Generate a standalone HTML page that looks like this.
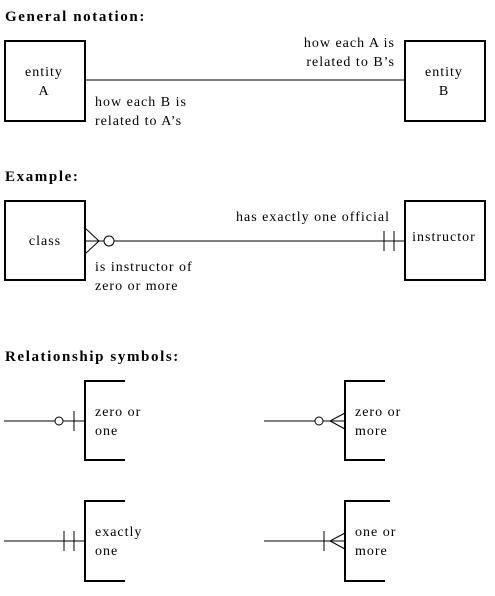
<!DOCTYPE html>
<html><head><meta charset="utf-8"><style>
body{margin:0;background:#fff;}
svg{display:block;}
text{font-family:"Liberation Serif",serif;font-size:14px;letter-spacing:1px;fill:#000;}
.b{font-weight:bold;font-size:15px;letter-spacing:1.6px;}
</style></head><body>
<svg width="495" height="596" viewBox="0 0 495 596" stroke="#000" fill="none">
<g>
<text class="b" x="5" y="21" stroke="none">General notation:</text>
<rect x="5" y="41" width="80" height="80" stroke-width="2"/>
<text x="44" y="76" text-anchor="middle" stroke="none">entity</text>
<text x="44" y="95" text-anchor="middle" stroke="none">A</text>
<rect x="405" y="41" width="80" height="80" stroke-width="2"/>
<text x="444" y="76" text-anchor="middle" stroke="none">entity</text>
<text x="444" y="95" text-anchor="middle" stroke="none">B</text>
<line x1="85" y1="80" x2="405" y2="80"/>
<text x="395" y="47" text-anchor="end" stroke="none">how each A is</text>
<text x="395" y="66" text-anchor="end" stroke="none">related to B’s</text>
<text x="95" y="106" stroke="none">how each B is</text>
<text x="95" y="125" stroke="none">related to A’s</text>
</g>
<g>
<text class="b" x="5" y="181" stroke="none">Example:</text>
<rect x="5" y="201" width="80" height="79" stroke-width="2"/>
<text x="45" y="245" text-anchor="middle" stroke="none">class</text>
<rect x="405" y="201" width="80" height="79" stroke-width="2"/>
<text x="444" y="241" text-anchor="middle" stroke="none">instructor</text>
<line x1="114" y1="241" x2="405" y2="241"/>
<path d="M85 228 L99 241 L85 254 M85 241 L104 241"/>
<circle cx="109" cy="241" r="5"/>
<line x1="384" y1="231" x2="384" y2="251"/><line x1="394" y1="231" x2="394" y2="251"/>
<text x="236" y="221" stroke="none">has exactly one official</text>
<text x="95" y="271" stroke="none">is instructor of</text>
<text x="95" y="290" stroke="none">zero or more</text>
</g>
<g>
<text class="b" x="5" y="361" stroke="none">Relationship symbols:</text>
<g>
<path d="M125 381 L85 381 L85 460 L125 460" stroke-width="2"/>
<line x1="4" y1="421" x2="55" y2="421"/><circle cx="59" cy="421" r="4"/><line x1="63" y1="421" x2="85" y2="421"/>
<line x1="74" y1="411" x2="74" y2="431"/>
<text x="95" y="416" stroke="none">zero or</text><text x="95" y="435" stroke="none">one</text>
</g>
<g>
<path d="M385 381 L345 381 L345 460 L385 460" stroke-width="2"/>
<line x1="264" y1="421" x2="315" y2="421"/><circle cx="319" cy="421" r="4"/><line x1="323" y1="421" x2="345" y2="421"/>
<path d="M345 413 L330 421 L345 429"/>
<text x="355" y="416" stroke="none">zero or</text><text x="355" y="435" stroke="none">more</text>
</g>
<g>
<path d="M125 501 L85 501 L85 581 L125 581" stroke-width="2"/>
<line x1="4" y1="541" x2="85" y2="541"/>
<line x1="64" y1="531" x2="64" y2="551"/><line x1="74" y1="531" x2="74" y2="551"/>
<text x="95" y="536" stroke="none">exactly</text><text x="95" y="555" stroke="none">one</text>
</g>
<g>
<path d="M390 501 L345 501 L345 581 L385 581" stroke-width="2"/>
<line x1="264" y1="541" x2="345" y2="541"/>
<line x1="324" y1="531" x2="324" y2="551"/>
<path d="M345 533 L330 541 L345 549"/>
<text x="355" y="536" stroke="none">one or</text><text x="355" y="555" stroke="none">more</text>
</g>
</g>
</svg>
</body></html>
